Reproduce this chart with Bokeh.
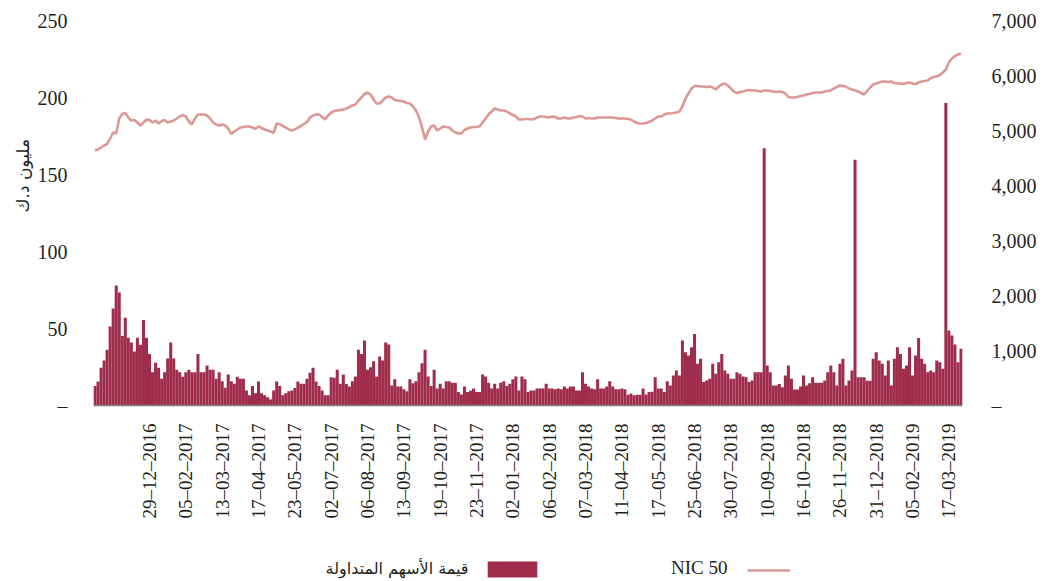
import math
from bokeh.plotting import figure
from bokeh.layouts import column
from bokeh.models import (Range1d, LinearAxis, FixedTicker, Label, Legend, LegendItem,
                          NumeralTickFormatter, ColumnDataSource, Title)
from bokeh.embed import file_html
from bokeh.resources import INLINE

# ---------------- data ----------------
tick_dates = ["29–12–2016", "05–02–2017", "13–03–2017", "17–04–2017", "23–05–2017",
              "02–07–2017", "06–08–2017", "13–09–2017", "19–10–2017", "23–11–2017",
              "02–01–2018", "06–02–2018", "07–03–2018", "11–04–2018", "17–05–2018",
              "25–06–2018", "30–07–2018", "10–09–2018", "16–10–2018", "26–11–2018",
              "31–12–2018", "05–02–2019", "17–03–2019"]
first_labeled_bar = 18
label_step = 12

# traded value, million KD (left axis)
traded_value = [
    12.6, 15.6, 24.5, 29.2, 36.2, 51.3, 63.0, 78.0, 73.4, 45.2,
    56.9, 44.0, 40.9, 35.0, 44.0, 39.4, 55.6, 44.0, 33.5, 21.6,
    27.7, 24.5, 17.3, 21.6, 30.5, 40.9, 30.5, 23.2, 21.6, 18.6,
    21.6, 23.2, 21.6, 21.6, 33.5, 21.6, 21.6, 26.0, 23.2, 23.2,
    17.3, 21.6, 15.8, 11.5, 20.1, 15.8, 14.1, 18.6, 17.3, 17.3,
    9.7, 6.7, 12.6, 8.0, 15.6, 8.0, 6.7, 5.4, 3.9, 9.7,
    15.6, 12.6, 6.7, 8.0, 9.3, 9.7, 11.3, 15.6, 14.1, 14.1,
    17.3, 21.2, 24.5, 15.6, 12.6, 9.7, 6.7, 6.7,
    18.4, 18.0, 23.2, 14.1, 20.1, 14.0, 12.3, 15.8, 18.8, 36.2,
    33.5, 42.2, 23.2, 24.9, 28.8, 18.8, 31.8, 29.2, 40.9, 39.6,
    13.0, 17.1, 12.3, 12.3, 10.5, 9.3, 17.1, 14.5, 15.8, 21.6,
    27.5, 36.2, 18.8, 12.6, 23.2, 11.0, 14.1, 11.0, 15.8, 15.8,
    14.8, 14.8, 8.7, 7.1, 12.3, 8.7, 9.5, 11.0, 8.7, 8.7,
    20.1, 18.8, 14.8, 11.0, 14.1, 11.0, 14.8, 15.8, 12.6, 14.1,
    17.1, 18.8, 9.7, 18.8, 17.1, 8.7, 9.7, 9.7, 11.0, 11.0,
    11.0, 14.1, 11.0, 11.0, 10.5, 11.0, 10.5, 12.3, 11.0, 12.3,
    12.3, 9.7, 9.7, 21.6, 14.1, 12.3, 11.0, 10.5, 17.1, 11.0,
    11.0, 12.3, 15.8, 12.3, 10.5, 10.5, 11.0, 10.5, 7.0, 7.8,
    6.7, 7.0, 7.0, 11.0, 7.1, 8.7, 9.0, 18.4, 11.0, 11.0,
    8.7, 15.8,
    13.0, 19.5, 22.7, 19.5, 42.2, 34.6, 32.5, 37.9, 46.5, 27.1,
    30.3, 15.2, 16.2, 17.3, 27.1, 20.6, 28.1, 33.5, 22.7, 20.6,
    17.3, 17.3, 21.6, 20.6, 18.9, 18.4, 15.2, 16.2, 21.6, 21.6,
    21.6, 167.0, 25.9, 21.6, 13.0, 13.0, 14.0, 11.9, 19.5, 25.9,
    17.3, 10.4, 10.4, 12.3, 19.5, 13.0, 14.5, 18.4, 14.7, 14.7,
    14.7, 16.2, 21.6, 25.9, 21.6, 13.0, 27.1, 30.3, 13.0, 16.2,
    22.7, 159.5, 18.4, 18.4, 18.4, 16.0, 16.0, 30.3, 34.6, 29.2,
    27.1, 19.5, 29.2, 13.0, 30.3, 37.9, 33.5, 23.8, 25.9, 37.9,
    19.5, 32.5, 43.9, 30.3, 27.1, 21.6, 22.7, 21.6, 29.2, 28.1,
    23.8, 196.5, 48.7, 45.5, 39.6, 28.1, 36.8,
]

# NIC 50 index (right axis)
nic50 = [
    4636, 4655, 4691, 4727, 4755, 4855, 4964, 4945, 5218, 5300,
    5318, 5236, 5182, 5191, 5145, 5091, 5145, 5200, 5191, 5145,
    5182, 5127, 5173, 5191, 5145, 5164, 5182, 5218, 5255, 5282,
    5255, 5164, 5109, 5218, 5291, 5291, 5291, 5273, 5218, 5145,
    5109, 5091, 5109, 5091, 5036, 4936, 4982, 5018, 5055, 5064,
    5073, 5073, 5055, 5030, 5073, 5045, 5018, 5000, 4982, 4955,
    5127, 5118, 5082, 5055, 5018, 5000, 5018, 5055, 5082, 5118,
    5155, 5236, 5273, 5291, 5291, 5245, 5200, 5273, 5327, 5355,
    5364, 5373, 5382, 5400, 5427, 5455, 5473, 5545, 5600, 5664,
    5691, 5655, 5564, 5491, 5491, 5545, 5600, 5618, 5600, 5555,
    5545, 5536, 5527, 5500, 5491, 5436, 5364, 5245, 5055, 4836,
    4982, 5073, 5091, 5000, 5036, 5073, 5064, 5055, 5000, 4964,
    4945, 4945, 5009, 5036, 5055, 5064, 5064, 5073, 5145, 5218,
    5291, 5345, 5400, 5382, 5364, 5364, 5345, 5309, 5282, 5255,
    5200, 5200, 5209, 5209, 5200, 5209, 5236, 5255, 5255, 5245,
    5236, 5255, 5245, 5218, 5218, 5236, 5218, 5218, 5236, 5245,
    5264, 5255, 5218, 5227, 5218, 5218, 5236, 5236, 5236, 5236,
    5236, 5236, 5227, 5218, 5218, 5218, 5209, 5200, 5164, 5136,
    5127, 5127, 5136, 5155, 5182, 5218, 5255, 5255, 5291, 5309,
    5309, 5318, 5327, 5345, 5436, 5582, 5673, 5764, 5809, 5809,
    5800, 5800, 5791, 5800, 5782, 5745, 5800, 5836, 5855, 5818,
    5764, 5709, 5682, 5700, 5709, 5727, 5736, 5727, 5727, 5718,
    5709, 5727, 5727, 5718, 5709, 5700, 5709, 5700, 5673, 5609,
    5600, 5600, 5609, 5627, 5636, 5655, 5664, 5682, 5691, 5691,
    5691, 5709, 5718, 5727, 5764, 5791, 5818, 5809, 5800, 5764,
    5745, 5727, 5709, 5682, 5655, 5718, 5782, 5836, 5855, 5873,
    5891, 5891, 5882, 5891, 5864, 5855, 5855, 5845, 5864, 5873,
    5855, 5845, 5873, 5891, 5900, 5909, 5955, 5973, 5982, 6009,
    6055, 6109, 6236, 6309, 6355, 6382, 6400,
]

left_ticks = [0, 50, 100, 150, 200, 250]
right_ticks = [0, 1000, 2000, 3000, 4000, 5000, 6000, 7000]
series_bar_name = "قيمة الأسهم المتداولة"
series_line_name = "NIC 50"
left_title = "مليون د.ك"

# ---------------- styling ----------------
BAR = "#9e2c4a"
LINE = "#dc9896"
TXT = "#231f20"
SERIF = "Liberation Serif"
ARABIC = "DejaVu Sans"
W = 1043

n = len(traded_value)
src = ColumnDataSource(dict(idx=list(range(n)), traded=traded_value, nic=nic50))

p = figure(width=W, height=545, output_backend="svg", toolbar_location=None,
           x_range=Range1d(-0.5, n - 0.5), y_range=Range1d(0, 250),
           min_border_left=93, min_border_right=81, min_border_top=20,
           min_border_bottom=140)
p.extra_y_ranges = {"nic": Range1d(0, 7000)}
p.xgrid.visible = False
p.ygrid.visible = False
p.outline_line_color = None

p.vbar(x="idx", top="traded", width=1.0, source=src, fill_color=BAR, line_color=None)
p.line(x="idx", y="nic", source=src, y_range_name="nic", line_color=LINE, line_width=2.6)

# x axis
tick_pos = [first_labeled_bar + label_step * k for k in range(len(tick_dates))]
xa = p.xaxis[0]
xa.ticker = FixedTicker(ticks=tick_pos)
xa.major_label_overrides = {t: d for t, d in zip(tick_pos, tick_dates)}
xa.major_label_orientation = math.pi / 2
xa.major_tick_line_color = None
xa.minor_tick_line_color = None
xa.axis_line_color = "#808080"
xa.axis_line_width = 1.5
xa.major_label_standoff = 12
xa.major_label_text_font = SERIF
xa.major_label_text_font_size = "19px"
xa.major_label_text_color = TXT

# left axis
ya = p.yaxis[0]
ya.ticker = FixedTicker(ticks=left_ticks)
ya.major_label_overrides = {0: "–"}
ya.axis_line_color = None
ya.major_tick_line_color = None
ya.minor_tick_line_color = None
ya.major_label_standoff = 20
ya.major_label_text_font = SERIF
ya.major_label_text_font_size = "20px"
ya.major_label_text_color = TXT

# left axis title, placed in the upper half like the reference
p.add_layout(Title(text=left_title, align="left", offset=193, standoff=4,
                   text_font=ARABIC, text_font_size="17px", text_font_style="normal",
                   text_color=TXT), "left")

# right axis
ra = LinearAxis(y_range_name="nic", ticker=FixedTicker(ticks=right_ticks),
                formatter=NumeralTickFormatter(format="0,0"))
ra.major_label_overrides = {0: "–"}
ra.axis_line_color = None
ra.major_tick_line_color = None
ra.minor_tick_line_color = None
ra.major_label_standoff = 23
ra.major_label_text_font = SERIF
ra.major_label_text_font_size = "20px"
ra.major_label_text_color = TXT
p.add_layout(ra, "right")

# ---------------- legend strip (glyph to the right of its label) ----------------
lg = figure(width=W, height=36, output_backend="svg", toolbar_location=None,
            x_range=Range1d(0, 1), y_range=Range1d(0, 1),
            x_axis_type=None, y_axis_type=None, min_border=0)
lg.xgrid.visible = False
lg.ygrid.visible = False
lg.outline_line_color = None
bar_key = lg.vbar(x="idx", top="traded", width=1.0, source=src,
                  fill_color=BAR, line_color=None, visible=False)
line_key = lg.line(x="idx", y="nic", source=src, line_color=LINE, line_width=2.6,
                   visible=False)

common = dict(padding=0, margin=0, spacing=0, label_width=0, label_height=0,
              label_standoff=0, label_text_font_size="1px", click_policy="none",
              border_line_color=None, background_fill_alpha=0)
lg.add_layout(Legend(items=[LegendItem(label=" ", renderers=[bar_key])], location=(388, 2),
                     glyph_width=62, glyph_height=20, **common))
lg.add_layout(Legend(items=[LegendItem(label=" ", renderers=[line_key])], location=(654, 3),
                     glyph_width=43, glyph_height=16, **common))
lg.add_layout(Label(x=375, y=13, x_units="screen", y_units="screen", text=series_bar_name,
                    text_align="right", text_baseline="middle",
                    text_font=ARABIC, text_font_size="16px", text_color=TXT))
lg.add_layout(Label(x=634, y=14, x_units="screen", y_units="screen", text=series_line_name,
                    text_align="right", text_baseline="middle",
                    text_font=SERIF, text_font_size="19px", text_color=TXT))

layout = column(p, lg, spacing=0)
open("out.html", "w").write(file_html(layout, INLINE))
